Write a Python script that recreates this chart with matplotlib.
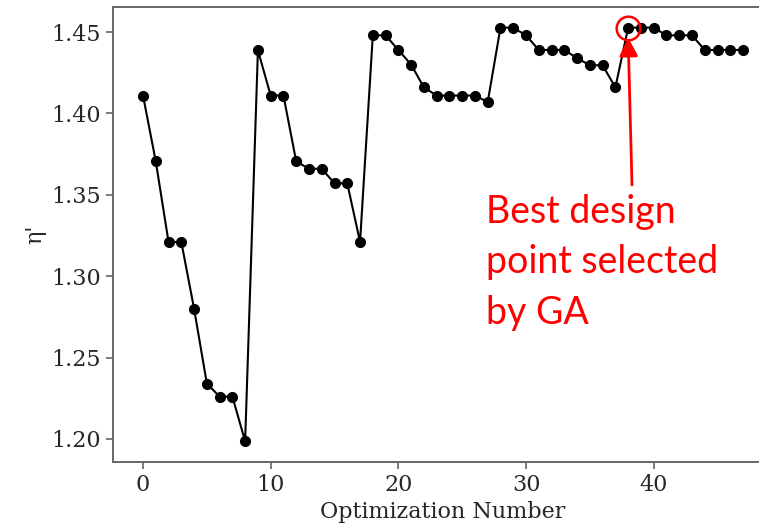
import numpy as np
import matplotlib.pyplot as plt

# eta' value at each optimization step
eta = [1.411, 1.3705, 1.321, 1.321, 1.280, 1.234, 1.226, 1.226, 1.1985, 1.4388,
       1.411, 1.411, 1.3705, 1.366, 1.366, 1.357, 1.357, 1.321, 1.448, 1.448,
       1.439, 1.430, 1.416, 1.411, 1.411, 1.411, 1.411, 1.407, 1.4527, 1.4527,
       1.448, 1.439, 1.439, 1.439, 1.434, 1.4296, 1.4296, 1.416, 1.4527, 1.4527,
       1.4527, 1.448, 1.448, 1.448, 1.439, 1.439, 1.439, 1.439]
steps = np.arange(len(eta))
best = 38

plt.rcParams['font.family'] = 'DejaVu Serif'
plt.rcParams['text.color'] = '0.15'

fig = plt.figure(figsize=(7.59, 5.25), dpi=100)
ax = fig.add_axes([0.1489, 0.12, 0.8696, 0.8667])

ax.plot(steps, eta, '-o', color='black', lw=1.5, ms=7)

# highlight the selected design
ax.plot(steps[best], eta[best], 'o', mfc='none', mec='red', mew=1.8, ms=17)
ax.annotate('', xy=(steps[best], eta[best] - 0.006),
            xytext=(632, 340), textcoords='figure pixels',
            arrowprops=dict(arrowstyle='-|>', color='red', lw=2,
                            mutation_scale=28, shrinkA=0, shrinkB=0))
fig.text(486, 331, 'Best design\npoint selected\nby GA', transform=None,
         color='red', fontsize=27, family='Lato', linespacing=1.5,
         ha='left', va='top')

ax.set_xlabel('Optimization Number', fontsize=16, color='0.15')
ax.set_ylabel("η'", fontsize=16, color='0.15')
ax.tick_params(labelsize=16, colors='0.15', length=5, width=1.2)
ax.tick_params(axis='both', color='0.4')
for s in ax.spines.values():
    s.set_color('0.4')
    s.set_linewidth(1.4)

fig.savefig('out.png', dpi=100)
